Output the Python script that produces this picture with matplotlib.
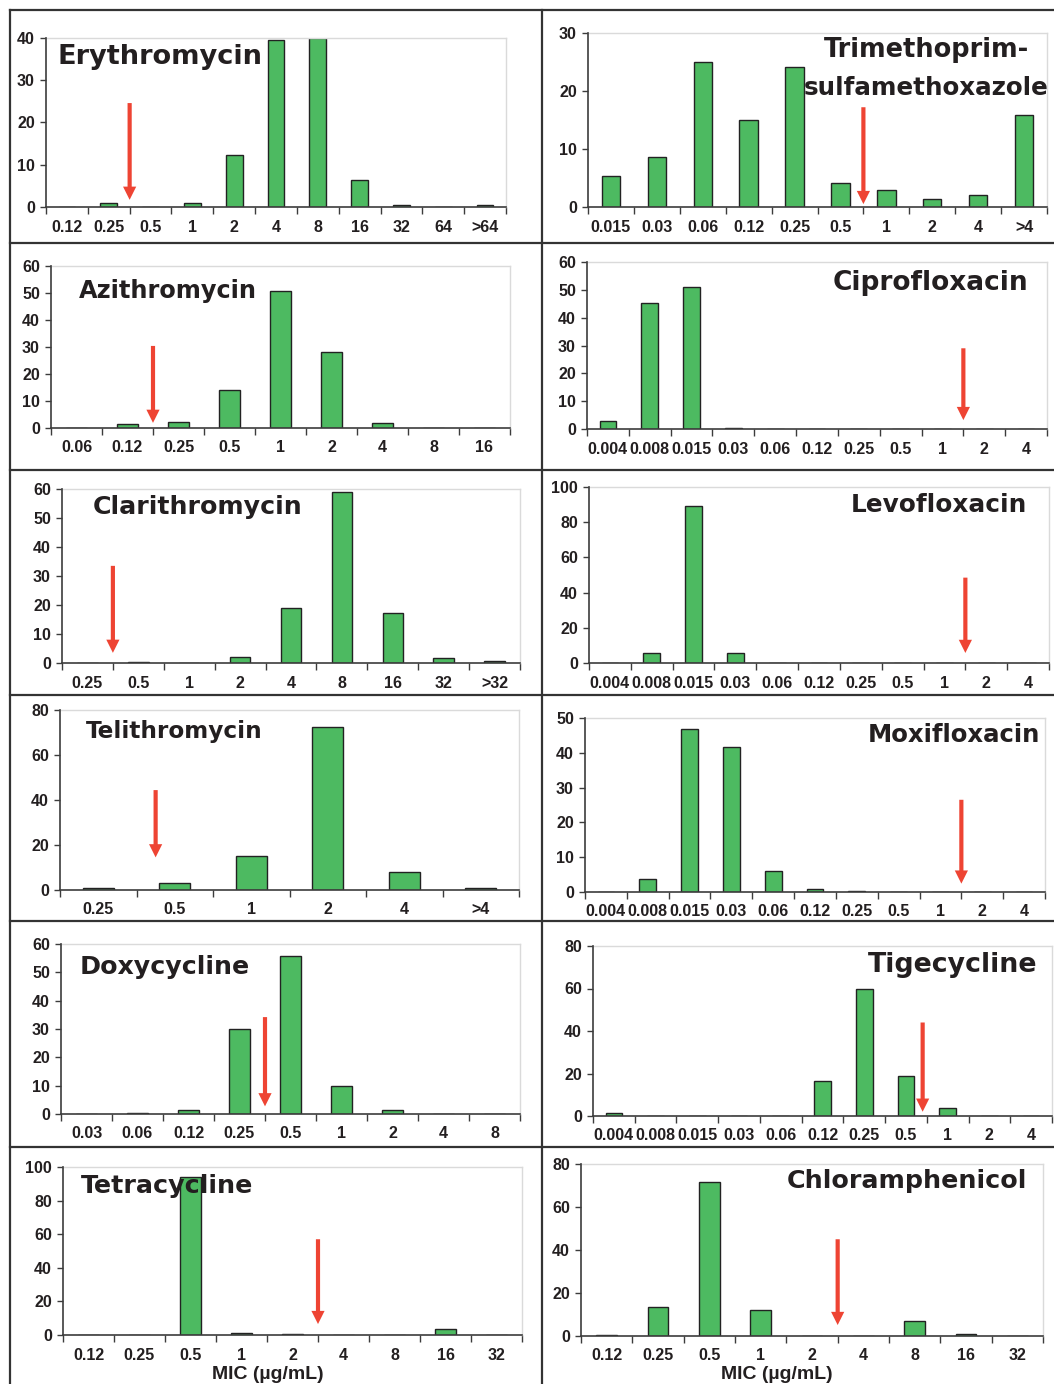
import numpy as np
import matplotlib
matplotlib.use('Agg')
import matplotlib.pyplot as plt
from matplotlib.lines import Line2D

# MIC distributions (% of isolates) per drug
ery_mic = ['0.12', '0.25', '0.5', '1', '2', '4', '8', '16', '32', '64', '>64']
ery_pct = [0, 1, 0, 1, 12.3, 39.5, 40, 6.5, 0.4, 0, 0.4]

tmp_mic = ['0.015', '0.03', '0.06', '0.12', '0.25', '0.5', '1', '2', '4', '>4']
tmp_pct = [5.3, 8.6, 25, 15, 24.1, 4.1, 3.0, 1.4, 2.1, 15.9]

azi_mic = ['0.06', '0.12', '0.25', '0.5', '1', '2', '4', '8', '16']
azi_pct = [0, 1.6, 2.3, 13.9, 50.6, 28, 2, 0, 0]

fq_mic = ['0.004', '0.008', '0.015', '0.03', '0.06', '0.12', '0.25', '0.5', '1', '2', '4']
cip_pct = [2.8, 45.3, 51, 0.4, 0, 0, 0, 0, 0, 0, 0]
lev_pct = [0, 5.5, 89, 5.5, 0, 0, 0, 0, 0, 0, 0]
mox_pct = [0, 3.8, 46.9, 41.7, 6.0, 1.0, 0.4, 0, 0, 0, 0]
tig_pct = [1.6, 0, 0, 0, 0, 16.7, 59.9, 18.9, 3.6, 0, 0]

cla_mic = ['0.25', '0.5', '1', '2', '4', '8', '16', '32', '>32']
cla_pct = [0, 0.5, 0, 2.2, 19, 58.8, 17.1, 1.8, 0.8]

tel_mic = ['0.25', '0.5', '1', '2', '4', '>4']
tel_pct = [1.0, 3.1, 15, 72.6, 8, 1.0]

dox_mic = ['0.03', '0.06', '0.12', '0.25', '0.5', '1', '2', '4', '8']
dox_pct = [0, 0.5, 1.5, 30, 55.9, 9.9, 1.5, 0, 0]

tc_mic = ['0.12', '0.25', '0.5', '1', '2', '4', '8', '16', '32']
tet_pct = [0, 0, 94.1, 1.4, 0.8, 0, 0, 3.8, 0]
chl_pct = [0.5, 13.3, 71.5, 11.9, 0, 0, 7, 0.9, 0]

names = ['Erythromycin', 'Trimethoprim-\nsulfamethoxazole', 'Azithromycin', 'Ciprofloxacin',
         'Clarithromycin', 'Levofloxacin', 'Telithromycin', 'Moxifloxacin',
         'Doxycycline', 'Tigecycline', 'Tetracycline', 'Chloramphenicol']
mics = [ery_mic, tmp_mic, azi_mic, fq_mic, cla_mic, fq_mic, tel_mic, fq_mic,
        dox_mic, fq_mic, tc_mic, tc_mic]
pcts = [ery_pct, tmp_pct, azi_pct, cip_pct, cla_pct, lev_pct, tel_pct, mox_pct,
        dox_pct, tig_pct, tet_pct, chl_pct]
ymax = [40, 30, 60, 60, 60, 100, 80, 50, 60, 80, 100, 80]
ystep = [10, 10, 10, 10, 10, 20, 20, 10, 10, 20, 20, 20]
# breakpoint position on the category axis (bars sit on 0, 1, 2, ...)
breakpoint = [1.5, 5.5, 1.5, 8.5, 0.5, 8.5, 0.75, 8.5, 3.5, 7.4, 4.5, 4.5]

# layout, in pixels of the 1054x1384 picture
W, H = 1054, 1384
axes_box = [(46, 506, 38, 207), (588, 1047, 33, 207),
            (51, 510, 266, 428), (587, 1047, 262, 429),
            (62, 520, 489, 663), (589, 1049, 487, 663),
            (60, 519, 710, 890), (585, 1045, 718, 892),
            (61, 520, 944, 1114), (593, 1052, 946, 1116),
            (63, 522, 1167, 1335), (581, 1043, 1164, 1336)]
arrow_span = [(24.6, 1.7), (17.2, 0.5), (30.4, 1.9), (29, 3.2), (33.5, 3.5), (48.5, 5.7),
              (44.4, 14.5), (26.5, 2.4), (34.2, 2.7), (44, 2), (57, 6.5), (45, 5.1)]
# (x, baseline y, target width, ha)
title_pos = [(57, 64, 206, 'left'), None,
             (79, 298, 178, 'left'), (1028, 290, 196, 'right'),
             (93, 514, 210, 'left'), (1027, 512, 176, 'right'),
             (86, 738, 177, 'left'), (1040, 742, 174, 'right'),
             (80, 974, 170, 'left'), (1037, 972, 170, 'right'),
             (81, 1193, 173, 'left'), (1027, 1188, 241, 'right')]
tmp_lines = [('Trimethoprim-', 926, 57, 205), ('sulfamethoxazole', 926, 95, 246)]

bar_green = '#4dba61'
arrow_red = '#ee4433'
ink = '#231f20'
axis_col = '#3c3c3c'

plt.rcParams['font.family'] = ['Liberation Sans', 'DejaVu Sans']

fig = plt.figure(figsize=(W / 100, H / 100), dpi=100)
renderer = fig.canvas.get_renderer()


def fig_text(s, x, y, width_px, ha):
    t = fig.text(x / W, 1 - y / H, s, fontsize=20, fontweight='bold',
                 family='DejaVu Sans', ha=ha, va='baseline', color=ink, zorder=5)
    w = t.get_window_extent(renderer).width
    t.set_fontsize(20 * width_px / w)
    return t


for i in range(12):
    x0, x1, y0, y1 = axes_box[i]
    ax = fig.add_axes([x0 / W, 1 - y1 / H, (x1 - x0) / W, (y1 - y0) / H])
    n = len(mics[i])
    xs = np.arange(n)
    ax.bar(xs, pcts[i], width=0.4, color=bar_green, edgecolor='#222222', linewidth=1.0, zorder=2)
    ax.set_xlim(-0.5, n - 0.5)
    ax.set_ylim(0, ymax[i])
    ax.set_xticks(xs)
    ax.set_xticklabels(mics[i])
    ax.set_xticks(np.arange(n + 1) - 0.5, minor=True)
    ax.set_yticks(np.arange(0, ymax[i] + 1, ystep[i]))
    ax.tick_params(axis='x', which='major', length=0, pad=9, labelsize=11.5, labelcolor=ink)
    ax.tick_params(axis='x', which='minor', length=5, width=1, color=axis_col, direction='out')
    ax.tick_params(axis='y', length=4, width=1, color=axis_col, pad=4, labelsize=11.5, labelcolor=ink)
    for lab in ax.get_xticklabels() + ax.get_yticklabels():
        lab.set_fontweight('bold')
    for side in ['left', 'bottom']:
        ax.spines[side].set_color(axis_col)
        ax.spines[side].set_linewidth(1.2)
        ax.spines[side].set_zorder(3)
    for side in ['top', 'right']:
        ax.spines[side].set_color('#dadada')
        ax.spines[side].set_linewidth(1.0)

    top, tip = arrow_span[i]
    bx = breakpoint[i]
    ax.annotate('', xy=(bx, tip), xytext=(bx, top),
                arrowprops=dict(width=3, headwidth=9.5, headlength=9.5, shrink=0,
                                facecolor=arrow_red, edgecolor='none'),
                zorder=4)

    if title_pos[i] is not None:
        tx, ty, tw, ha = title_pos[i]
        fig_text(names[i], tx, ty, tw, ha)

for s, tx, ty, tw in tmp_lines:
    fig_text(s, tx, ty, tw, 'center')

for cx in [268, 777]:
    fig.text(cx / W, 1 - 1379 / H, 'MIC (µg/mL)', fontsize=14, fontweight='bold',
             ha='center', va='baseline', color=ink)

# panel frame lines
frame_col = '#333333'
rows_y = [10, 243, 470, 695, 921, 1147]
for ry in rows_y:
    fig.add_artist(Line2D([10 / W, 1.0], [1 - ry / H, 1 - ry / H], color=frame_col, lw=1.6,
                          transform=fig.transFigure))
for cx in [10, 542]:
    fig.add_artist(Line2D([cx / W, cx / W], [1 - 10 / H, 0.0], color=frame_col, lw=1.6,
                          transform=fig.transFigure))

fig.savefig('out.png', dpi=100)
